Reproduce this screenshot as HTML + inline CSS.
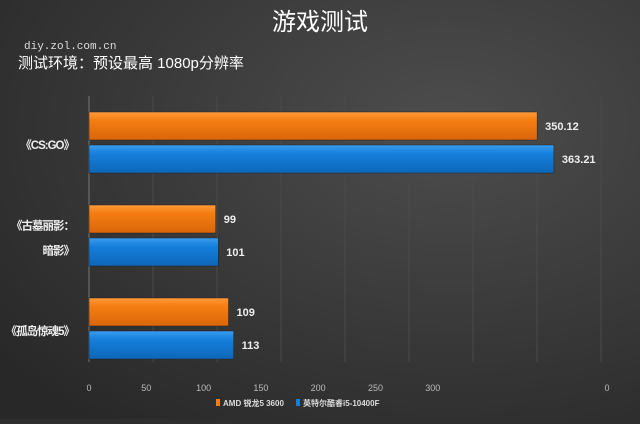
<!DOCTYPE html>
<html><head><meta charset="utf-8"><style>
body{margin:0;width:640px;height:419px;overflow:hidden;background:#2e2e2e;font-family:"Liberation Sans","Noto Sans CJK SC",sans-serif}
</style></head><body>
<svg width="640" height="419" xmlns="http://www.w3.org/2000/svg">
<defs>
<radialGradient id="bg" cx="0.7" cy="0.3" r="0.9"><stop offset="0" stop-color="#4d4d4d"/><stop offset="1" stop-color="#282828"/></radialGradient>
<linearGradient id="og" x1="0" y1="0" x2="0" y2="1"><stop offset="0" stop-color="#ff9a3a"/><stop offset="0.3" stop-color="#f57d12"/><stop offset="1" stop-color="#d9660a"/></linearGradient>
<linearGradient id="bgr" x1="0" y1="0" x2="0" y2="1"><stop offset="0" stop-color="#3a9cf0"/><stop offset="0.3" stop-color="#1580dc"/><stop offset="1" stop-color="#0d66b8"/></linearGradient>
</defs>
<rect width="640" height="419" fill="url(#bg)"/>
<text x="320" y="30" text-anchor="middle" font-size="24" fill="#fff">游戏测试</text>
<text x="24" y="49" font-size="11" fill="#ddd" font-family="Liberation Mono,monospace">diy.zol.com.cn</text>
<text x="18" y="68" font-size="15" fill="#fff">测试环境：预设最高 1080p分辨率</text>
<g id="grid"></g><g id="bars"></g><g id="labels"></g>
<g>
<rect x="216" y="399" width="4" height="7" fill="#f57d12"/>
<text x="223" y="406" font-size="8" fill="#ddd" font-weight="bold">AMD 锐龙5 3600</text>
<rect x="296" y="399" width="4" height="7" fill="#1580dc"/>
<text x="303" y="406" font-size="8" fill="#ddd" font-weight="bold">英特尔酷睿i5-10400F</text>
</g>
</svg>
<script>
const categories=[["《CS:GO》"],["《古墓丽影：","暗影》"],["《孤岛惊魂5》"]];
const amdValues=[350.12,99,109];
const intelValues=[363.21,101,113];
const tickValues=[0,50,100,150,200,250,300];
const ns="http://www.w3.org/2000/svg";
const x0=89, pxPer=1.28;
const xScale=v=>x0+v*pxPer;
const tickScale=v=>89+v*1.146;
const groupTop=[112,205,298], barH=28, gap=33;
function mk(t,a,p){const e=document.createElementNS(ns,t);for(const k in a)e.setAttribute(k,a[k]);p.appendChild(e);return e;}
const grid=document.getElementById('grid'),bars=document.getElementById('bars'),labels=document.getElementById('labels');
for(let v=0;v<=400;v+=50){const l=mk('line',{x1:xScale(v),x2:xScale(v),y1:96,y2:362,stroke:v==0?'#777':'#4a4a4a','stroke-width':1},grid);

}
tickValues.forEach(v=>{const t=mk('text',{x:tickScale(v),y:391,'text-anchor':'middle','font-size':9,fill:'#bbb'},labels);t.textContent=v;

});
const t0=mk('text',{x:607,y:391,'text-anchor':'middle','font-size':9,fill:'#bbb'},labels);t0.textContent='0';


categories.forEach((c,i)=>{
 const cy=groupTop[i]+gap;
 c.forEach((line,j)=>{const t=mk('text',{x:74,y:cy+4+(c.length>1?(j-0.5)*25:0),'text-anchor':'end','font-size':11.5,'font-weight':'bold',fill:'#eee','letter-spacing':'-1'},labels);t.textContent=line;
 
 });
 [[amdValues,'url(#og)',0,'amd'],[intelValues,'url(#bgr)',gap,'intel']].forEach(([arr,fill,off,nm])=>{
  const y=groupTop[i]+off;
  const r=mk('rect',{x:x0,y:y,width:xScale(arr[i])-x0,height:barH,fill:fill,stroke:'#222','stroke-width':0.5},bars);
  
  
  const t=mk('text',{x:xScale(arr[i])+8,y:y+barH/2+4,'font-size':11,'font-weight':'bold',fill:'#eee'},labels);t.textContent=arr[i];
  
  
 });
});
</script>
</body></html>
